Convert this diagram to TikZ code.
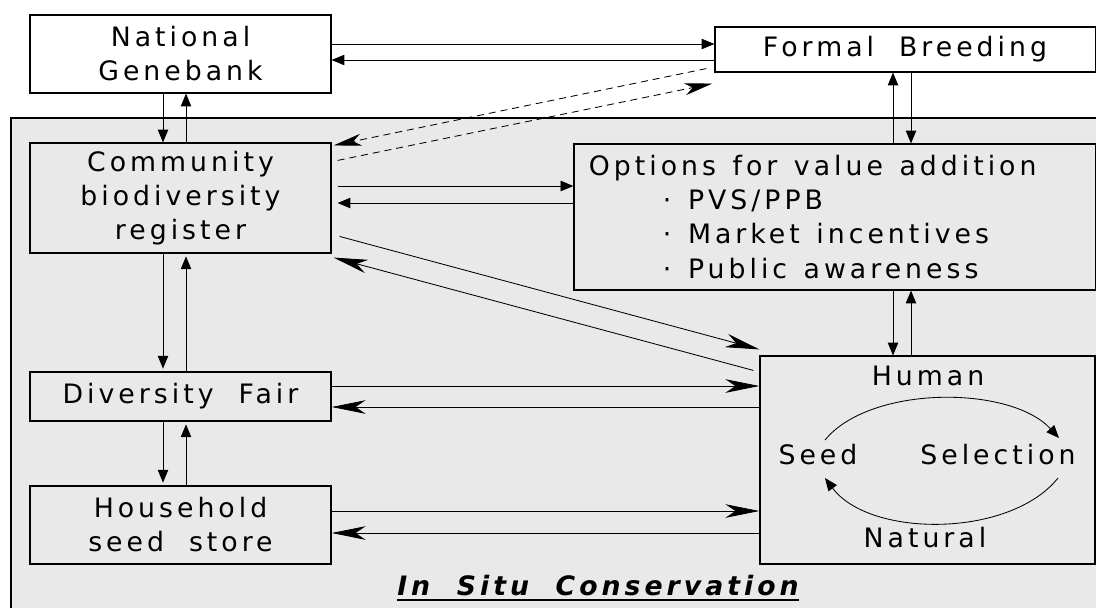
\documentclass[tikz,border=0pt]{standalone}
\usepackage{fontspec}
\setmainfont{DejaVu Sans}[LetterSpace=15,WordSpace=2]
\usetikzlibrary{arrows.meta}

\definecolor{insitu}{RGB}{233,233,233}
\newcommand{\boxfont}{\fontsize{19}{24.2}\selectfont}

\begin{document}
\begin{tikzpicture}[x=0.025cm,y=-0.025cm,line width=0.6pt,
		box/.style={draw,line width=0.8pt,inner sep=0pt,align=center,font=\boxfont},
		txt/.style={inner sep=0pt,font=\boxfont},
		tri/.style={-{Triangle[length=0.32cm,width=0.26cm]}},
		stl/.style={-{Stealth[length=0.85cm,width=0.34cm,inset=0.25cm]}},
		dsh/.style={-{Stealth[length=0.7cm,width=0.3cm,inset=0.2cm]},dash pattern=on 5pt off 3.5pt}]
		\useasboundingbox (0,0) rectangle (1096,608);
		% in situ area
		\fill[insitu] (11,118) rectangle (1096,608);
		\draw[line width=0.8pt] (11,608) -- (11,118) -- (1096,118);

		\node[box,fill=white,minimum width=7.525cm,minimum height=1.95cm] (ng) at (180.5,54) {National\\Genebank};
		\node[box,fill=white,minimum width=9.5cm,minimum height=1.125cm] (fb) at (905,49.5) {Formal Breeding};
		\node[box,minimum width=7.525cm,minimum height=2.75cm] (cb) at (180.5,198) {Community\\biodiversity\\register};
		\node[box,minimum width=13.025cm,minimum height=3.65cm,align=left,text width=12.275cm,inner xsep=0.375cm] (opt) at (834.5,217)
			{\spaceskip=0.62em\relax Options for value addition\\
			\hspace*{1.85cm}· PVS/PPB\\
			\hspace*{1.85cm}· Market incentives\\
			\hspace*{1.85cm}· Public awareness};
		\node[box,minimum width=7.525cm,minimum height=1.225cm] (df) at (180.5,396.5) {Diversity Fair};
		\node[box,minimum width=7.525cm,minimum height=1.95cm] (hh) at (180.5,525) {Household\\seed store};
		\node[box,minimum width=8.375cm,minimum height=5.2cm] (hu) at (927.5,460) {};

		\node[txt] (human) at (928,376) {Human};
		\node[txt] (seed) at (818,455) {Seed};
		\node[txt] (sel) at (998,455) {Selection};
		\node[txt] (nat) at (925,538) {Natural};
		\node[txt,anchor=base,font=\boxfont\bfseries\itshape] (title) at (598,595) {In Situ Conservation};
		\draw[line width=1.6pt] ([yshift=-0.13cm]title.base west) -- ([yshift=-0.13cm]title.base east);

		% cycle
		\draw [tri] ([shift={(7,-15)}]seed.center) .. controls +(45,-55) and +(-49,-53) .. ([shift={(61,-17)}]sel.center);
		\draw [tri] ([shift={(60,23)}]sel.center) .. controls +(-48,60) and +(45,60) .. ([shift={(7,23)}]seed.center);

		% genebank and breeding
		\draw [tri] (ng.east |- 0,44) -- (fb.west |- 0,44);
		\draw [tri] (fb.west |- 0,60) -- (ng.east |- 0,60);
		\draw [tri] (ng.south -| 163,0) -- (cb.north -| 163,0);
		\draw [tri] (cb.north -| 186,0) -- (ng.south -| 186,0);
		\draw [dsh] ([shift={(-8,-4)}]fb.south west) -- ([shift={(2,3)}]cb.north east);
		\draw [dsh] ([shift={(6,18)}]cb.north east) -- ([shift={(-2,11)}]fb.south west);
		\draw [tri] (opt.north -| 893,0) -- (fb.south -| 893,0);
		\draw [tri] (fb.south -| 911,0) -- (opt.north -| 911,0);

		% left column
		\draw [tri,shorten >=2pt] (cb.south -| 163,0) -- (df.north -| 163,0);
		\draw [tri,shorten >=2pt] (df.north -| 186,0) -- (cb.south -| 186,0);
		\draw [tri,shorten >=2pt] (df.south -| 163,0) -- (hh.north -| 163,0);
		\draw [tri,shorten >=2pt] (hh.north -| 186,0) -- (df.south -| 186,0);

		% to options and human
		\draw [tri,shorten <=0.15cm] (cb.east |- 0,186) -- (opt.west |- 0,186);
		\draw [tri,shorten >=0.15cm] (opt.west |- 0,203) -- (cb.east |- 0,203);
		\draw [tri] (opt.south -| 893,0) -- (hu.north -| 893,0);
		\draw [tri] (hu.north -| 911,0) -- (opt.south -| 911,0);
		\draw [stl] ([shift={(8,94)}]cb.north east) -- ([shift={(0,-6)}]hu.north west);
		\draw [stl] ([shift={(-6,15)}]hu.north west) -- ([shift={(2,4)}]cb.south east);
		\draw [stl] (df.east |- 0,386) -- (hu.west |- 0,386);
		\draw [stl] (hu.west |- 0,407) -- (df.east |- 0,407);
		\draw [stl] (hh.east |- 0,511) -- (hu.west |- 0,511);
		\draw [stl] (hu.west |- 0,533) -- (hh.east |- 0,533);
\end{tikzpicture}
\end{document}
